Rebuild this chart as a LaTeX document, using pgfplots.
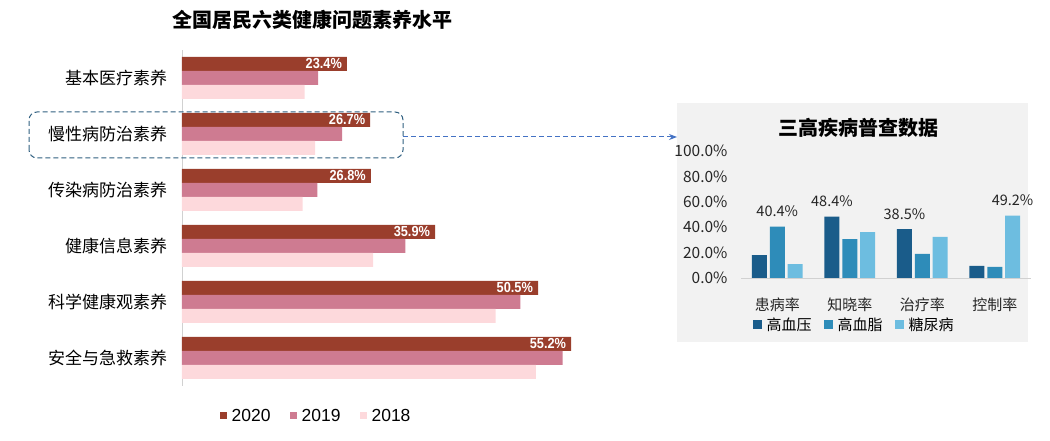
\documentclass[border=0pt]{standalone}
\usepackage{fontspec}
\setmainfont{Liberation Sans}
\newfontfamily\cjk{Noto Sans CJK SC}
\usepackage{pgfplots}
\pgfplotsset{compat=1.18}
\usetikzlibrary{arrows.meta}

\definecolor{c2020}{HTML}{9A3E2C}
\definecolor{c2019}{HTML}{CE7B91}
\definecolor{c2018}{HTML}{FDD9DC}
\definecolor{hbp}{HTML}{1A5C8A}
\definecolor{hbl}{HTML}{2E8CB9}
\definecolor{dia}{HTML}{6DBDE0}
\definecolor{panel}{HTML}{F2F2F2}
\definecolor{boxblue}{HTML}{2F5F80}
\definecolor{arrowblue}{HTML}{4472C4}
\definecolor{txt}{HTML}{262626}

\begin{document}
\begin{tikzpicture}
\path[use as bounding box] (0,0) rectangle (1050pt,441pt);

% panel behind the small chart
\fill[panel] (677pt,99pt) rectangle (1028pt,338pt);

\node[font=\cjk\bfseries\fontsize{20}{24}\selectfont] at (312pt,421pt) {全国居民六类健康问题素养水平};
\node[font=\cjk\bfseries\fontsize{20}{24}\selectfont] at (858pt,313pt) {三高疾病普查数据};

% left: six literacy domains
\begin{axis}[
  at={(182pt,55pt)}, anchor=south west, scale only axis,
  width=423pt, height=336pt,
  /pgf/number format/assume math mode=true,
  xbar, bar width=14pt,
  xmin=0, xmax=60, ymin=-0.5, ymax=5.5,
  axis x line=none, axis y line*=left,
  y axis line style={-, draw=black!18},
  ytick={0,...,5}, ytick style={draw=none},
  yticklabels={安全与急救素养,科学健康观素养,健康信息素养,传染病防治素养,慢性病防治素养,基本医疗素养},
  yticklabel style={font=\cjk\fontsize{17}{20}\selectfont, xshift=-7pt},
  legend style={at={(0.317,-0.089)}, anchor=center, draw=none, fill=none,
    legend columns=3, font=\fontsize{17.5}{20}\selectfont,
    /tikz/every odd column/.append style={column sep=3pt},
    /tikz/every even column/.append style={column sep=17pt}},
  legend image code/.code={\fill[#1] (0pt,-3.5pt) rectangle (7pt,3.5pt);},
]
\addplot[draw=none, fill=c2020, bar shift=14pt, point meta=x,
  nodes near coords={\pgfmathprintnumber[fixed,fixed zerofill,precision=1]{\pgfplotspointmeta}\%},
  every node near coord/.append style={anchor=east, text=white, xshift=-2pt,
    font=\bfseries\fontsize{14.5}{16}\selectfont, xscale=0.88}]
  coordinates {(23.4,5) (26.7,4) (26.8,3) (35.9,2) (50.5,1) (55.2,0)};
\addlegendentry{2020}
\addplot[draw=none, fill=c2019, bar shift=0pt]
  coordinates {(19.3,5) (22.7,4) (19.2,3) (31.7,2) (48.0,1) (54.0,0)};
\addlegendentry{2019}
\addplot[draw=none, fill=c2018, bar shift=-14pt]
  coordinates {(17.4,5) (18.9,4) (17.1,3) (27.1,2) (44.5,1) (50.2,0)};
\addlegendentry{2018}
\end{axis}

% right: three highs survey
\begin{axis}[
  at={(741pt,163pt)}, anchor=south west, scale only axis,
  width=290pt, height=127pt,
  /pgf/number format/assume math mode=true,
  ybar, bar width=15pt,
  ymin=0, ymax=100, xmin=-0.5, xmax=3.5,
  axis x line*=bottom, axis y line*=left,
  x axis line style={-, draw=black!18}, y axis line style={draw=none},
  ytick={0,20,...,100}, ytick style={draw=none},
  yticklabel={\pgfmathprintnumber[fixed,fixed zerofill,precision=1]{\tick}\%},
  yticklabel style={font=\cjk\fontsize{15.5}{17}\selectfont, text=txt, xshift=-10pt},
  xtick={0,1,2,3}, xtick style={draw=none},
  xticklabels={患病率,知晓率,治疗率,控制率},
  xticklabel style={font=\cjk\fontsize{15}{18}\selectfont, text=txt, yshift=-12pt},
  nodes near coords, point meta=explicit symbolic,
  every node near coord/.append style={font=\cjk\fontsize{14.5}{16}\selectfont, text=txt, yshift=6pt},
  legend style={at={(0.39,-0.37)}, anchor=center, draw=none, fill=none,
    legend columns=3, font=\cjk\fontsize{15}{18}\selectfont,
    /tikz/every odd column/.append style={column sep=3pt},
    /tikz/every even column/.append style={column sep=10pt}},
  legend image code/.code={\fill[#1] (0pt,-4.5pt) rectangle (9pt,4.5pt);},
]
\addplot[draw=none, fill=hbp, bar shift=-17.8pt]
  coordinates {(0,18.1) [] (1,48.4) [48.4\%] (2,38.5) [38.5\%] (3,9.5) []};
\addlegendentry{高血压}
\addplot[draw=none, fill=hbl, bar shift=0pt]
  coordinates {(0,40.4) [40.4\%] (1,30.7) [] (2,19.0) [] (3,8.7) []};
\addlegendentry{高血脂}
\addplot[draw=none, fill=dia, bar shift=17.8pt]
  coordinates {(0,11.0) [] (1,36.1) [] (2,32.3) [] (3,49.2) [49.2\%]};
\addlegendentry{糖尿病}
\end{axis}

% callout from the chronic disease row to the panel
\draw[boxblue, line width=1pt, dash pattern=on 5pt off 3pt, rounded corners=8pt]
  (29pt,283pt) rectangle (403pt,329pt);
\draw[arrowblue, line width=1pt, dash pattern=on 5pt off 3pt, -{Stealth[length=8pt,width=6pt]}]
  (403pt,304pt) -- (677pt,304pt);
\end{tikzpicture}
\end{document}
